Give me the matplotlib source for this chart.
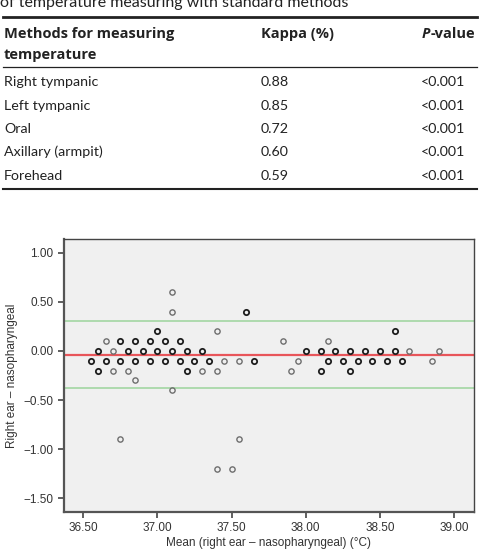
import matplotlib
matplotlib.use("Agg")
import matplotlib.pyplot as plt
from matplotlib.lines import Line2D

# table at the top
methods = ["Right tympanic", "Left tympanic", "Oral", "Axillary (armpit)", "Forehead"]
kappa = ["0.88", "0.85", "0.72", "0.60", "0.59"]
pvalues = ["<0.001", "<0.001", "<0.001", "<0.001", "<0.001"]

# Bland-Altman points: mean (°C), difference (°C), number of overlapping cases
mean_temp = [37.10, 37.10, 37.60,
             37.00, 37.40, 38.60,
             36.65, 36.75, 36.85, 36.95, 37.05, 37.15, 37.85, 38.15,
             36.60, 36.70, 36.80, 36.90, 37.00, 37.10, 37.20, 37.30,
             38.00, 38.10, 38.20, 38.30, 38.40, 38.50, 38.60, 38.70, 38.90,
             36.55, 36.65, 36.75, 36.85, 36.95, 37.05, 37.15, 37.25, 37.35, 37.45,
             37.55, 37.65, 37.95, 38.15, 38.25, 38.35, 38.45, 38.55, 38.65, 38.85,
             36.60, 36.70, 36.80, 37.20, 37.30, 37.40, 37.90, 38.10, 38.30,
             36.85, 37.10, 36.75, 37.55, 37.40, 37.50]
diff_temp = [0.6, 0.4, 0.4,
             0.2, 0.2, 0.2,
             0.1, 0.1, 0.1, 0.1, 0.1, 0.1, 0.1, 0.1,
             0.0, 0.0, 0.0, 0.0, 0.0, 0.0, 0.0, 0.0,
             0.0, 0.0, 0.0, 0.0, 0.0, 0.0, 0.0, 0.0, 0.0,
             -0.1, -0.1, -0.1, -0.1, -0.1, -0.1, -0.1, -0.1, -0.1, -0.1,
             -0.1, -0.1, -0.1, -0.1, -0.1, -0.1, -0.1, -0.1, -0.1, -0.1,
             -0.2, -0.2, -0.2, -0.2, -0.2, -0.2, -0.2, -0.2, -0.2,
             -0.3, -0.4, -0.9, -0.9, -1.2, -1.2]
overlap = [1, 1, 2,
           2, 1, 2,
           1, 2, 2, 2, 2, 2, 1, 1,
           2, 1, 2, 2, 2, 2, 2, 2,
           2, 2, 2, 2, 2, 2, 2, 1, 1,
           2, 2, 2, 2, 2, 2, 2, 2, 2, 1,
           1, 2, 1, 2, 2, 2, 2, 2, 2, 1,
           2, 1, 1, 2, 1, 1, 1, 2, 2,
           1, 1, 1, 1, 1, 1]

mean_diff = -0.04
upper_loa = 0.30
lower_loa = -0.38

x_ticks = [36.5, 37.0, 37.5, 38.0, 38.5, 39.0]
y_ticks = [1.0, 0.5, 0.0, -0.5, -1.0, -1.5]

W, H = 480, 550
fig = plt.figure(figsize=(W / 100, H / 100), dpi=100)

def fy(py):
    return 1 - py / H

tfont = "Lato"
hfont = "Open Sans"
# caption line, cut at the top edge as in the source page
fig.text(0 / W, fy(7.5), "of temperature measuring with standard methods",
         fontsize=11.5, family=tfont, va="baseline", ha="left", color="#222222")

# rules of the table
for py, lw in [(17, 2.0), (67, 0.9), (189, 1.5)]:
    fig.add_artist(Line2D([3 / W, 477 / W], [fy(py), fy(py)], color="#222222", lw=lw))

fs = 10.3
hs = 10.5
fig.text(4 / W, fy(38), "Methods for measuring", fontsize=hs, family=hfont,
         weight="bold", va="baseline", color="#222222")
fig.text(4 / W, fy(59), "temperature", fontsize=hs, family=hfont,
         weight="bold", va="baseline", color="#222222")
fig.text(261 / W, fy(38), "Kappa (%)", fontsize=hs, family=hfont,
         weight="bold", va="baseline", color="#222222")
pv = fig.text(475 / W, fy(38), "-value", fontsize=hs, family=hfont,
              weight="bold", va="baseline", ha="right", color="#222222")
fig.canvas.draw()
bb = pv.get_window_extent()
fig.text(bb.x0 / W, fy(38), "P", fontsize=hs, family=hfont, weight="bold",
         style="italic", va="baseline", ha="right", color="#222222")

row_base = [86.5, 110, 133, 156.5, 180]
for i in range(len(methods)):
    fig.text(4 / W, fy(row_base[i]), methods[i], fontsize=fs, family=tfont,
             va="baseline", color="#222222")
    fig.text(261 / W, fy(row_base[i]), kappa[i], fontsize=fs, family=tfont,
             va="baseline", color="#222222")
    fig.text(421 / W, fy(row_base[i]), pvalues[i], fontsize=fs, family=tfont,
             va="baseline", color="#222222")

# Bland-Altman plot
ax = fig.add_axes([64 / W, 1 - 512 / H, 410 / W, 273 / H])
ax.set_facecolor("#f0f0f0")
ax.set_xlim(36.37, 39.135)
ax.set_ylim(-1.64, 1.14)

ax.axhline(upper_loa, color="#a8d8a8", lw=1.3, zorder=1)
ax.axhline(lower_loa, color="#a8d8a8", lw=1.3, zorder=1)
ax.axhline(mean_diff, color="#e8555a", lw=1.6, zorder=1)

xs1 = [m for m, n in zip(mean_temp, overlap) if n == 1]
ys1 = [d for d, n in zip(diff_temp, overlap) if n == 1]
xs2 = [m for m, n in zip(mean_temp, overlap) if n > 1]
ys2 = [d for d, n in zip(diff_temp, overlap) if n > 1]
ax.plot(xs1, ys1, "o", ms=3.8, mfc="none", mec="#6e6e6e", mew=1.0, zorder=3)
ax.plot(xs2, ys2, "o", ms=3.8, mfc="none", mec="#1e1e1e", mew=1.3, zorder=3)

ax.set_xticks(x_ticks)
ax.set_xticklabels(["%.2f" % v for v in x_ticks])
ax.set_yticks(y_ticks)
ax.set_yticklabels(["%.2f" % v if v >= 0 else "\u2212%.2f" % -v for v in y_ticks])
ax.tick_params(labelsize=8.5, colors="#444444", labelcolor="#333333",
               length=4, width=1.2, direction="out")
for lab in ax.get_xticklabels() + ax.get_yticklabels():
    lab.set_family("Liberation Sans")
for s in ["left", "bottom"]:
    ax.spines[s].set_color("#555555")
    ax.spines[s].set_linewidth(1.6)
for s in ["top", "right"]:
    ax.spines[s].set_color("#444444")
    ax.spines[s].set_linewidth(1.0)

ax.set_xlabel("Mean (right ear \u2013 nasopharyngeal) (\u00b0C)", fontsize=8.5,
              family="Liberation Sans", color="#333333", labelpad=2)
ax.set_ylabel("Right ear \u2013 nasopharyngeal", fontsize=8.5,
              family="Liberation Sans", color="#333333", labelpad=4)

fig.savefig("out.png", dpi=100, facecolor="white")
